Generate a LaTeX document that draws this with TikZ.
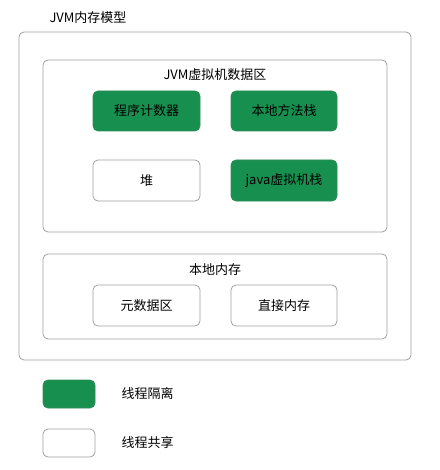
\documentclass[tikz,border=0pt]{standalone}
\usepackage{fontspec}
\setmainfont{Noto Sans CJK SC}
\definecolor{jgreen}{HTML}{17904F}
\definecolor{jedge}{HTML}{A0A0A0}
\begin{document}
\begin{tikzpicture}[x=1pt,y=-1pt,
  every node/.style={font=\fontsize{13}{15}\selectfont, text=black},
  frame/.style={draw=jedge, line width=0.8pt, rounded corners=5pt},
  greenbox/.style={frame, fill=jgreen, draw=jgreen!80!gray},
  whitebox/.style={frame, fill=white}]
\useasboundingbox (0,0) rectangle (439,470);
\node (title) at (88,18) {JVM内存模型};
\draw[frame] (19,32) rectangle (411,360);
\coordinate (outer) at (215,196);
% data area
\draw[frame] (43,60) rectangle (387,232);
\node (dataarea) at (215,75) {JVM虚拟机数据区};
\draw[greenbox] (93,91) rectangle (200,131);
\node (pc) at (146.5,111) {程序计数器};
\draw[greenbox] (231,91) rectangle (337,131);
\node (native) at (284,111) {本地方法栈};
\draw[whitebox] (93,160) rectangle (200,201);
\node (heap) at (146.5,180.5) {堆};
\draw[greenbox] (231,160) rectangle (337,201);
\node (jstack) at (284,180.5) {java虚拟机栈};
% native memory
\draw[frame] (43,254) rectangle (387,339);
\node (local) at (215,270) {本地内存};
\draw[whitebox] (93,285) rectangle (200,326);
\node (meta) at (146.5,305.5) {元数据区};
\draw[whitebox] (231,285) rectangle (337,326);
\node (direct) at (284,305.5) {直接内存};
% legend
\draw[greenbox] (43,380) rectangle (95,408);
\node[anchor=west] (iso) at (118,394) {线程隔离};
\draw[whitebox] (43,429) rectangle (95,457);
\node[anchor=west] (share) at (118,443) {线程共享};
\end{tikzpicture}
\end{document}
